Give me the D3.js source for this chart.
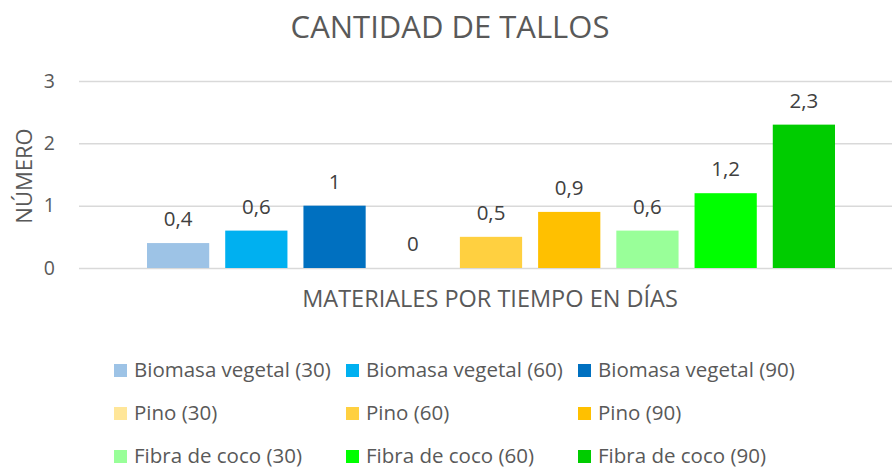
<!DOCTYPE html>
<html><head><meta charset="utf-8">
<script src="https://cdn.jsdelivr.net/npm/d3@7"></script>
<style>body{margin:0;background:#fff}svg{display:block;font-family:"Open Sans",sans-serif}</style>
</head><body>
<svg id="c" width="892" height="472"></svg>
<script>
const title = "CANTIDAD DE TALLOS";
const xTitle = "MATERIALES POR TIEMPO EN DÍAS";
const yTitle = "NÚMERO";
const series = ["Biomasa vegetal (30)","Biomasa vegetal (60)","Biomasa vegetal (90)","Pino (30)","Pino (60)","Pino (90)","Fibra de coco (30)","Fibra de coco (60)","Fibra de coco (90)"];
const values = [0.4,0.6,1,0,0.5,0.9,0.6,1.2,2.3];
const colors = ["#9DC3E6","#00B0F0","#0070C0","#FFE699","#FFD040","#FFC000","#99FF99","#00FF00","#00CC00"];
const yTicks = [0,1,2,3];

const svg = d3.select("#c");
const txt = "#595959";
const plot = {l:79, r:903, t:81, b:268};

const y = d3.scaleLinear().domain([0,3]).range([plot.b, plot.t]);
const x = d3.scaleBand().domain(series).range([plot.l+60, plot.r-60]).paddingInner(0.2045).paddingOuter(0.10225);

const yAxis = d3.axisLeft(y).tickValues(yTicks).tickSize(-(plot.r-plot.l)).tickFormat(d=>String(d).replace(".",",")).tickPadding(24);
const ga = svg.append("g").attr("transform",`translate(${plot.l},0)`).call(yAxis);
ga.select(".domain").remove();
ga.selectAll(".tick line").attr("stroke","#D9D9D9").attr("stroke-width",1.5);
ga.selectAll(".tick text").attr("fill",txt).attr("font-size",19.5).attr("font-family","Open Sans, sans-serif");

svg.append("g").selectAll("rect").data(series).join("rect")
  .attr("x", d=>x(d)).attr("width", x.bandwidth())
  .attr("y", (d,i)=>y(values[i])).attr("height",(d,i)=>y(0)-y(values[i]))
  .attr("fill",(d,i)=>colors[i]);

svg.append("g").selectAll("text").data(series).join("text")
  .attr("x", d=>x(d)+x.bandwidth()/2).attr("y",(d,i)=>y(values[i])-17)
  .attr("text-anchor","middle").attr("fill","#404040").attr("font-size",20.5)
  .text((d,i)=>String(values[i]).replace(".",","));

svg.append("text").attr("x",450).attr("y",38).attr("text-anchor","middle").attr("fill",txt).attr("font-size",31).text(title);
svg.append("text").attr("x",490).attr("y",307).attr("text-anchor","middle").attr("fill",txt).attr("font-size",23.5).text(xTitle);
svg.append("text").attr("transform","translate(32,176) rotate(-90)").attr("text-anchor","middle").attr("fill",txt).attr("font-size",22).text(yTitle);

const lg = svg.append("g");
series.forEach((s,i)=>{
  const col = i%3, row = Math.floor(i/3);
  const lx = 114 + col*232, ly = 377 + row*43;
  lg.append("rect").attr("x",lx).attr("y",ly-13).attr("width",13).attr("height",13).attr("fill",colors[i]);
  lg.append("text").attr("x",lx+20).attr("y",ly).attr("fill",txt).attr("font-size",20.5).text(s);
});
</script>
</body></html>
